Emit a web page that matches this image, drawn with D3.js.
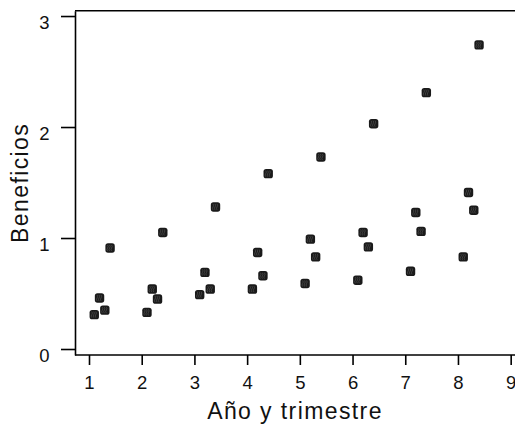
<!DOCTYPE html>
<html>
<head>
<meta charset="utf-8">
<script src="https://cdn.jsdelivr.net/npm/d3@7"></script>
<style>
  body { margin: 0; background: #fff; }
  text { font-family: "Liberation Sans", Arial, Helvetica, sans-serif; }
</style>
</head>
<body>
<svg width="515" height="425"></svg>
<script>
// Año y trimestre (año + trimestre/10) and beneficios
var periods = [1.1, 1.2, 1.3, 1.4, 2.1, 2.2, 2.3, 2.4, 3.1, 3.2, 3.3, 3.4,
  4.1, 4.2, 4.3, 4.4, 5.1, 5.2, 5.3, 5.4, 6.1, 6.2, 6.3, 6.4,
  7.1, 7.2, 7.3, 7.4, 8.1, 8.2, 8.3, 8.4];
var profits = [0.31, 0.46, 0.35, 0.91, 0.33, 0.54, 0.45, 1.05, 0.49, 0.69, 0.54, 1.28,
  0.54, 0.87, 0.66, 1.58, 0.59, 0.99, 0.83, 1.73, 0.62, 1.05, 0.92, 2.03,
  0.70, 1.23, 1.06, 2.31, 0.83, 1.41, 1.25, 2.74];
var xTicks = [1, 2, 3, 4, 5, 6, 7, 8, 9];
var yTicks = [0, 1, 2, 3];

var data = periods.map(function(p, i) { return {x: p, y: profits[i]}; });

var svg = d3.select("svg");
var W = 515;

var pLeft = 75, pTop = 10.7, pBottom = 355, pRight = 514;

var x = d3.scaleLinear().domain([0.7344, 9.063]).range([pLeft, pRight]);
var y = d3.scaleLinear().domain([-0.054, 3.048]).range([pBottom, pTop]);

// frame top line
svg.append("line")
  .attr("x1", pLeft).attr("x2", W + 5)
  .attr("y1", pTop).attr("y2", pTop)
  .attr("stroke", "#000").attr("stroke-width", 1.6);

// bottom axis
var gx = svg.append("g")
  .attr("transform", "translate(0," + pBottom + ")")
  .call(d3.axisBottom(x).tickValues(xTicks).tickFormat(d3.format("d")).tickSizeInner(10).tickSizeOuter(0));
gx.attr("font-family", null).attr("font-size", null);
gx.select(".domain").attr("stroke-width", 1.6).attr("d", "M" + pLeft + ",0H" + (W + 5));
gx.selectAll(".tick line").attr("stroke-width", 1.6);
gx.selectAll(".tick text").attr("font-size", "18.5px").attr("fill", "#111")
  .attr("dy", null).attr("y", 34);

// left axis
var gy = svg.append("g")
  .attr("transform", "translate(" + pLeft + ",0)")
  .call(d3.axisLeft(y).tickValues(yTicks).tickFormat(d3.format("d")).tickSizeInner(14).tickSizeOuter(0));
gy.attr("font-family", null).attr("font-size", null);
gy.select(".domain").attr("stroke-width", 1.6);
gy.selectAll(".tick line").attr("stroke-width", 1.6);
gy.selectAll(".tick text").attr("font-size", "18.5px").attr("fill", "#111")
  .attr("dy", null).attr("y", 12).attr("x", -25.5);

// axis titles
svg.append("text")
  .attr("x", 295).attr("y", 419)
  .attr("text-anchor", "middle")
  .attr("font-size", "23px")
  .attr("letter-spacing", "1.4px")
  .attr("fill", "#111")
  .text("Año y trimestre");

svg.append("text")
  .attr("transform", "translate(28.3," + ((pTop + pBottom) / 2) + ") rotate(-90)")
  .attr("text-anchor", "middle")
  .attr("font-size", "23px")
  .attr("letter-spacing", "1.4px")
  .attr("fill", "#111")
  .text("Beneficios");

// markers
var pts = svg.append("g").selectAll("g.pt")
  .data(data)
  .enter().append("g")
  .attr("class", "pt")
  .attr("transform", function(d) { return "translate(" + x(d.x) + "," + y(d.y) + ")"; });

pts.append("rect")
  .attr("x", -4.7).attr("y", -4.7)
  .attr("width", 9.4).attr("height", 9.4)
  .attr("rx", 2.6)
  .attr("fill", "#1a1a1a");

pts.selectAll("path")
  .data([-2, 0, 2])
  .enter().append("path")
  .attr("d", function(o) { return "M" + (o - 0.5) + ",-3 q1.2,1.5 0,3 q-1.2,1.5 0,3"; })
  .attr("fill", "none")
  .attr("stroke", "#5a5a5a")
  .attr("stroke-width", 0.6);
</script>
</body>
</html>
